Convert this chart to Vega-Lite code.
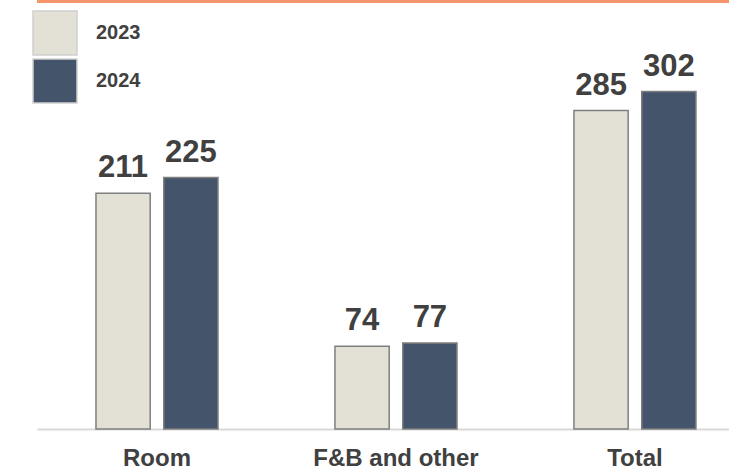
{
  "$schema": "https://vega.github.io/schema/vega-lite/v6.json",
  "autosize": "none",
  "width": 692,
  "height": 428,
  "padding": {"left": 37, "top": 1, "right": 0, "bottom": 42},
  "background": "white",
  "config": {
    "view": {"stroke": null},
    "font": "Liberation Sans"
  },
  "data": {
    "values": [
      {"category": "Room", "year": "2023", "value": 211},
      {"category": "Room", "year": "2024", "value": 225},
      {"category": "F&B and other", "year": "2023", "value": 74},
      {"category": "F&B and other", "year": "2024", "value": 77},
      {"category": "Total", "year": "2023", "value": 285},
      {"category": "Total", "year": "2024", "value": 302}
    ]
  },
  "encoding": {
    "x": {
      "field": "category",
      "type": "nominal",
      "sort": ["Room", "F&B and other", "Total"],
      "scale": {"paddingInner": 0.4895, "paddingOuter": 0.1925, "align": 0.641},
      "axis": {
        "title": null,
        "labelAngle": 0,
        "ticks": false,
        "tickSize": 0,
        "labelPadding": 17,
        "labelFont": "Liberation Sans",
        "labelFontSize": 24,
        "labelFontWeight": "bold",
        "labelColor": "#404040",
        "domainColor": "#D9D9D9",
        "domainWidth": 2,
        "grid": false
      }
    },
    "xOffset": {
      "field": "year",
      "type": "nominal",
      "scale": {"paddingInner": 0.2, "paddingOuter": 0}
    },
    "y": {
      "field": "value",
      "type": "quantitative",
      "scale": {"domain": [0, 383], "nice": false, "zero": true},
      "axis": null
    }
  },
  "layer": [
    {
      "mark": {"type": "rule", "color": "#F5956B", "strokeWidth": 3},
      "encoding": {
        "x": null,
        "xOffset": null,
        "y": {"datum": 383, "type": "quantitative"}
      }
    },
    {
      "mark": {"type": "bar", "stroke": "#7F7F7F", "strokeWidth": 1.5},
      "encoding": {
        "fill": {
          "field": "year",
          "type": "nominal",
          "scale": {"domain": ["2023", "2024"], "range": ["#E3E1D6", "#44546A"]},
          "legend": {
            "title": null,
            "orient": "none",
            "legendX": -5,
            "legendY": 9,
            "symbolType": "square",
            "symbolSize": 1936,
            "symbolStrokeColor": "#CFCFCF",
            "symbolStrokeWidth": 1.5,
            "symbolOpacity": 1,
            "labelFont": "Liberation Sans",
            "labelFontSize": 20,
            "labelFontWeight": "bold",
            "labelColor": "#404040",
            "labelOffset": 18,
            "rowPadding": -9
          }
        }
      }
    },
    {
      "mark": {
        "type": "text",
        "baseline": "alphabetic",
        "align": "center",
        "dy": -16,
        "font": "Liberation Sans",
        "fontSize": 31,
        "fontWeight": "bold",
        "color": "#404040"
      },
      "encoding": {
        "text": {"field": "value", "type": "quantitative"}
      }
    }
  ]
}
